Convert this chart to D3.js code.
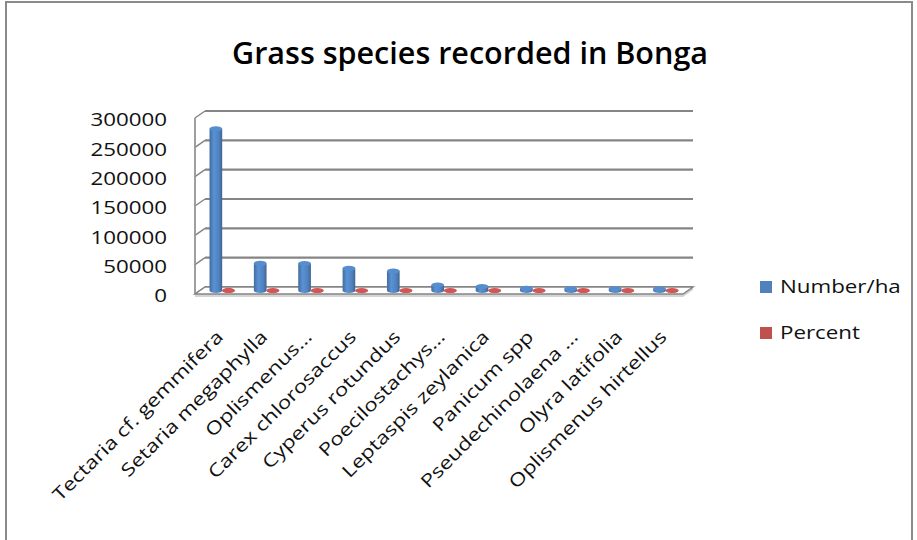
<!DOCTYPE html>
<html>
<head>
<meta charset="utf-8">
<script src="https://cdn.jsdelivr.net/npm/d3@7"></script>
<style>
  html, body { margin: 0; padding: 0; background: #fff; }
  svg { display: block; font-family: "Open Sans", "Noto Sans", sans-serif; }
</style>
</head>
<body>
<svg id="chart" width="917" height="540"></svg>
<script>
// Grass species recorded in Bonga: density (number/ha) and share (percent)
const categories = [
  "Tectaria cf. gemmifera",
  "Setaria megaphylla",
  "Oplismenus…",
  "Carex chlorosaccus",
  "Cyperus rotundus",
  "Poecilostachys…",
  "Leptaspis zeylanica",
  "Panicum spp",
  "Pseudechinolaena …",
  "Olyra latifolia",
  "Oplismenus hirtellus"
];
const numberPerHa = [275600, 46200, 46000, 37700, 33000, 9400, 6800, 3500, 3000, 2900, 2900];
const percent = [58.9, 9.9, 9.8, 8.1, 7.1, 2.0, 1.5, 0.7, 0.6, 0.6, 0.6];
const seriesNames = ["Number/ha", "Percent"];
const seriesColors = ["#4F81BD", "#C0504D"];
const yTicks = [0, 50000, 100000, 150000, 200000, 250000, 300000];
const titleText = "Grass species recorded in Bonga";

const svg = d3.select("#chart");

// Plot geometry (front plane and depth offset of the 3D box)
const frontLeft = 195, frontRight = 683, floorY = 294;
const depthX = 10, depthY = -7;
const plotH = 176;

const x = d3.scaleBand().domain(categories).range([frontLeft, frontRight]).paddingInner(0).paddingOuter(0);
const h = d3.scaleLinear().domain([0, 300000]).range([0, plotH]);
const yFront = v => floorY - h(v);
const yBack = v => floorY + depthY - h(v);
const yMid = v => floorY + depthY / 2 - h(v);

const defs = svg.append("defs");
function cylGradient(id, c) {
  const base = d3.color(c);
  const g = defs.append("linearGradient").attr("id", id).attr("x1", "0%").attr("x2", "100%").attr("y1", "0%").attr("y2", "0%");
  g.append("stop").attr("offset", "0%").attr("stop-color", base.darker(0.5));
  g.append("stop").attr("offset", "35%").attr("stop-color", base.brighter(0.35));
  g.append("stop").attr("offset", "75%").attr("stop-color", base);
  g.append("stop").attr("offset", "100%").attr("stop-color", base.darker(0.7));
}
cylGradient("gBlue", seriesColors[0]);
cylGradient("gRed", seriesColors[1]);

// Outer chart border
svg.append("rect").attr("x", 6).attr("y", 2).attr("width", 906).attr("height", 600)
  .attr("fill", "none").attr("stroke", "#8a8a8a").attr("stroke-width", 2);

// Stretch text horizontally to the wide look of the original typeface
function stretch(sel, f) {
  sel.each(function () {
    const L = this.getComputedTextLength();
    this.setAttribute("textLength", L * f);
    this.setAttribute("lengthAdjust", "spacingAndGlyphs");
  });
}

// Title
svg.append("text").attr("x", 470).attr("y", 64).attr("text-anchor", "middle")
  .attr("font-size", 30).attr("font-weight", 600).attr("fill", "#000")
  .attr("textLength", 476).attr("lengthAdjust", "spacingAndGlyphs")
  .text(titleText);

const gridColor = "#858585";

// Back wall gridlines
svg.append("g").selectAll("line").data(yTicks).join("line")
  .attr("x1", frontLeft + depthX).attr("x2", frontRight + depthX)
  .attr("y1", d => yBack(d)).attr("y2", d => yBack(d))
  .attr("stroke", gridColor).attr("stroke-width", 2.2);

// Side wall gridlines (diagonals)
svg.append("g").selectAll("line").data(yTicks).join("line")
  .attr("x1", frontLeft).attr("x2", frontLeft + depthX)
  .attr("y1", d => yFront(d)).attr("y2", d => yBack(d))
  .attr("stroke", gridColor).attr("stroke-width", 1.5);

// Front vertical axis line
svg.append("line").attr("x1", frontLeft).attr("x2", frontLeft)
  .attr("y1", yFront(300000)).attr("y2", yFront(0))
  .attr("stroke", "#959595").attr("stroke-width", 1.8);

// Floor: top face and a thin front edge
svg.append("path")
  .attr("d", `M${frontLeft},${floorY + 3} L${frontRight},${floorY + 3} L${frontRight + depthX},${floorY + depthY + 3} L${frontRight + depthX},${floorY + depthY} L${frontRight},${floorY} L${frontLeft},${floorY} Z`)
  .attr("fill", "#d4d4d4");
svg.append("path")
  .attr("d", `M${frontLeft},${floorY} L${frontRight},${floorY} L${frontRight + depthX},${floorY + depthY} L${frontLeft + depthX},${floorY + depthY} Z`)
  .attr("fill", "#fff").attr("stroke", gridColor).attr("stroke-width", 1.5);

// Cylinders
const bw = x.bandwidth() / 3.5;
const ry = 2.6;
function cylPath(cx, yt, y0) {
  const l = cx - bw / 2, r = cx + bw / 2;
  return `M${l},${yt} L${l},${y0} A${bw / 2},${ry} 0 0 0 ${r},${y0} L${r},${yt} Z`;
}
const series = [
  { name: seriesNames[0], values: numberPerHa, grad: "url(#gBlue)", color: seriesColors[0], slot: 0 },
  { name: seriesNames[1], values: percent, grad: "url(#gRed)", color: seriesColors[1], slot: 1 }
];
series.forEach(s => {
  const g = svg.append("g");
  const cxOf = i => x(categories[i]) + bw * (0.75 + s.slot) + bw / 2 + depthX / 2;
  const items = s.values.map((v, i) => ({ v, i }));
  g.selectAll("path.body").data(items).join("path").attr("class", "body")
    .attr("d", d => cylPath(cxOf(d.i), yMid(d.v), yMid(0)))
    .attr("fill", s.grad);
  g.selectAll("ellipse").data(items).join("ellipse")
    .attr("cx", d => cxOf(d.i)).attr("cy", d => yMid(d.v))
    .attr("rx", bw / 2).attr("ry", ry)
    .attr("fill", d3.color(s.color).brighter(0.25));
});

// Y tick labels
const yLabels = svg.append("g").selectAll("text").data(yTicks).join("text")
  .attr("x", 167).attr("y", d => yFront(d) + 2).attr("dy", "0.35em")
  .attr("text-anchor", "end").attr("font-size", 18).attr("fill", "#111")
  .text(d => d3.format("d")(d));
stretch(yLabels, 1.24);

// Category labels, rotated
const catLabels = svg.append("g").selectAll("text").data(categories).join("text")
  .attr("transform", d => `translate(${x(d) + x.bandwidth() / 2 + 7},${338}) rotate(-45)`)
  .attr("text-anchor", "end").attr("font-size", 18).attr("fill", "#111")
  .text(d => d);
stretch(catLabels, 1.24);

// Legend
const legend = svg.append("g");
seriesNames.forEach((n, i) => {
  const ly = 281 + i * 46;
  legend.append("rect").attr("x", 760).attr("y", ly).attr("width", 12).attr("height", 12)
    .attr("fill", seriesColors[i]);
  const t = legend.append("text").attr("x", 780).attr("y", ly + 6).attr("dy", "0.35em")
    .attr("font-size", 18).attr("fill", "#111").text(n);
  stretch(t, 1.24);
});
</script>
</body>
</html>
